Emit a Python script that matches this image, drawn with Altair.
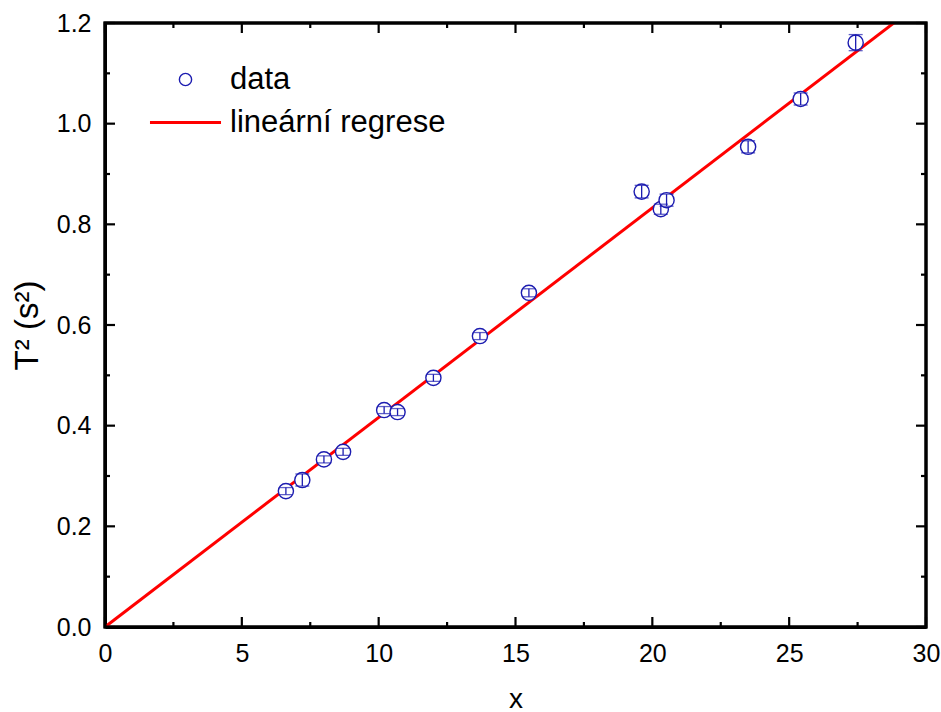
import altair as alt
import pandas as pd

# measured data (x, T^2 in s^2, uncertainty)
x_vals = [6.61, 7.21, 8.00, 8.70, 10.20, 10.69, 12.00, 13.70, 15.49, 19.61, 20.31, 20.52, 23.50, 25.42, 27.43]
t2_vals = [0.270, 0.292, 0.333, 0.348, 0.431, 0.427, 0.495, 0.578, 0.664, 0.865, 0.830, 0.848, 0.954, 1.049, 1.161]
t2_err = [0.007, 0.012, 0.007, 0.007, 0.007, 0.007, 0.007, 0.007, 0.008, 0.0125, 0.010, 0.012, 0.012, 0.012, 0.016]

# regression line end points
reg_x = [0.0, 30.0]
reg_y = [0.0, 1.249]

series = ["data", "lineární regrese"]

x_major = [0, 5, 10, 15, 20, 25, 30]
x_minor = [2.5, 7.5, 12.5, 17.5, 22.5, 27.5]
y_major = [0.0, 0.2, 0.4, 0.6, 0.8, 1.0, 1.2]
y_minor = [0.1, 0.3, 0.5, 0.7, 0.9, 1.1]

W, H = 821, 604
FONT = "Liberation Sans"
BLUE = "#1c1cb0"
RED = "#ff0000"

pts = pd.DataFrame({
    "x": x_vals, "y": t2_vals,
    "lo": [v - e for v, e in zip(t2_vals, t2_err)],
    "hi": [v + e for v, e in zip(t2_vals, t2_err)],
    "s": series[0],
})
reg = pd.DataFrame({"x": reg_x, "y": reg_y, "s": series[1]})

xs = alt.Scale(domain=[0, 30], nice=False, zero=False)
ys = alt.Scale(domain=[0, 1.2], nice=False, zero=False)

x_axis = alt.Axis(values=x_major, format="d", ticks=False, tickSize=0, domain=True,
                  domainColor="black", domainWidth=3, domainOpacity=1, grid=False,
                  labelFlush=False, labelFontSize=25, labelPadding=14, labelFont=FONT, labelColor="black",
                  titleFont=FONT, titleFontSize=28, titleFontWeight="normal", titleColor="black",
                  titlePadding=19)
y_axis = alt.Axis(values=y_major, format=".1f", ticks=False, tickSize=0, domain=True,
                  domainColor="black", domainWidth=3, domainOpacity=1, grid=False,
                  labelFlush=False, labelFontSize=25, labelPadding=14, labelFont=FONT, labelColor="black",
                  titleFont=FONT, titleFontSize=33, titleFontWeight="normal", titleColor="black",
                  titlePadding=12)

leg = alt.Legend(title=None, orient="none", legendX=65, legendY=41, labelFont=FONT, labelFontSize=31,
                 labelColor="black", labelOffset=29, labelLimit=500, rowPadding=11, padding=0,
                 symbolSize=150, symbolFillColor="white")

stroke_enc = alt.Stroke("s:N", scale=alt.Scale(domain=series, range=[BLUE, RED]), legend=leg)
shape_enc = alt.Shape("s:N", scale=alt.Scale(domain=series, range=["circle", "M-5.8,0L5.8,0"]), legend=leg)
sw_enc = alt.StrokeWidth("s:N", scale=alt.Scale(domain=series, range=[1.4, 3.0]), legend=leg)

line = alt.Chart(reg).mark_line(clip=True).encode(
    x=alt.X("x:Q", scale=xs, axis=x_axis, title="x"),
    y=alt.Y("y:Q", scale=ys, axis=y_axis, title="T² (s²)"),
    stroke=stroke_enc,
    strokeWidth=sw_enc,
)

points = alt.Chart(pts).mark_point(filled=False, fill="white", fillOpacity=1, opacity=1, size=230).encode(
    x="x:Q", y="y:Q",
    stroke=stroke_enc, shape=shape_enc, strokeWidth=sw_enc,
)

err = alt.Chart(pts).mark_rule(color=BLUE, strokeWidth=1.3).encode(
    x="x:Q", y="lo:Q", y2="hi:Q")
cap_lo = alt.Chart(pts).mark_tick(orient="horizontal", color=BLUE, size=14, thickness=1.3).encode(
    x="x:Q", y="lo:Q")
cap_hi = alt.Chart(pts).mark_tick(orient="horizontal", color=BLUE, size=14, thickness=1.3).encode(
    x="x:Q", y="hi:Q")

def xticks(vals, length, width):
    d = pd.DataFrame({"v": vals})
    b = alt.Chart(d).mark_rule(color="black", strokeWidth=width).encode(
        x="v:Q", y=alt.value(H), y2=alt.value(H - length))
    t = alt.Chart(d).mark_rule(color="black", strokeWidth=width).encode(
        x="v:Q", y=alt.value(0), y2=alt.value(length))
    return [b, t]

def yticks(vals, length, width):
    d = pd.DataFrame({"v": vals})
    l = alt.Chart(d).mark_rule(color="black", strokeWidth=width).encode(
        y="v:Q", x=alt.value(0), x2=alt.value(length))
    r = alt.Chart(d).mark_rule(color="black", strokeWidth=width).encode(
        y="v:Q", x=alt.value(W), x2=alt.value(W - length))
    return [l, r]

ticks = xticks(x_major, 10, 2.2) + xticks(x_minor, 5, 2.2) + yticks(y_major, 10, 2.2) + yticks(y_minor, 5, 2.2)

frame = alt.Chart(pd.DataFrame({"k": [0]})).mark_rect(
    fillOpacity=0, stroke="black", strokeOpacity=1, strokeWidth=3).encode(
    x=alt.value(0), x2=alt.value(W), y=alt.value(0), y2=alt.value(H))

chart = alt.layer(line, points, err, cap_lo, cap_hi, *ticks, frame).properties(
    width=W, height=H,
    padding={"left": 105, "top": 23, "right": 15, "bottom": 85},
    autosize=alt.AutoSizeParams(type="none"),
).configure(background="white").configure_view(stroke="black", strokeWidth=3, strokeOpacity=1)

chart.save("out.html", embed_options={"renderer": "svg", "actions": False})
